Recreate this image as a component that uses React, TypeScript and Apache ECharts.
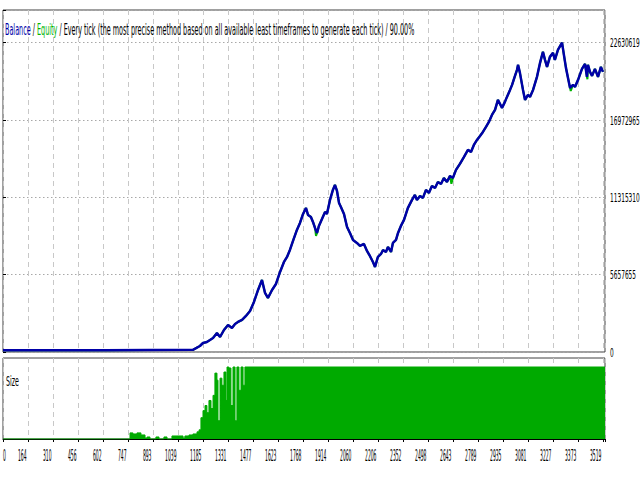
import React, { useEffect, useRef } from "react";
import * as echarts from "echarts";

const xTickLabels = ["0", "164", "310", "456", "602", "747", "893", "1039", "1185", "1331", "1477", "1623", "1768", "1914", "2060", "2206", "2352", "2498", "2643", "2789", "2935", "3081", "3227", "3373", "3519"];
const yTickValues = [0, 5657655, 11315310, 16972965, 22630619];
const yTickLabels = ["0", "5657655", "11315310", "16972965", "22630619"];

const balanceTrades = [0, 600, 1114, 1135, 1155, 1173, 1196, 1214, 1232, 1255, 1273, 1296, 1320, 1343, 1361, 1378, 1402, 1425, 1449, 1472, 1496, 1519, 1537, 1554, 1578, 1601, 1625, 1648, 1666, 1683, 1701, 1724, 1742, 1760, 1777, 1789, 1806, 1818, 1830, 1842, 1853, 1871, 1889, 1900, 1918, 1935, 1947, 1959, 1971, 1982, 2000, 2018, 2035, 2053, 2076, 2094, 2117, 2135, 2152, 2170, 2182, 2199, 2217, 2229, 2246, 2258, 2276, 2287, 2305, 2317, 2334, 2352, 2375, 2399, 2416, 2428, 2446, 2463, 2481, 2498, 2516, 2534, 2551, 2569, 2586, 2604, 2622, 2639, 2657, 2680, 2704, 2727, 2745, 2762, 2780, 2798, 2815, 2833, 2850, 2868, 2886, 2903, 2927, 2944, 2956, 2974, 2986, 3003, 3015, 3021, 3032, 3050, 3062, 3079, 3091, 3109, 3132, 3150, 3167, 3179, 3191, 3208, 3226, 3237, 3255, 3279, 3290, 3302, 3314, 3326, 3343, 3355, 3373, 3396, 3414, 3425, 3431, 3443, 3455, 3472, 3490, 3507, 3519];
const balanceValues = [120000, 125000, 160000, 300000, 439000, 659000, 732000, 878000, 1025000, 1391000, 1098000, 1610000, 1976000, 1757000, 2049000, 2196000, 2342000, 2635000, 3001000, 3660000, 4538000, 5270000, 4318000, 3952000, 4538000, 4977000, 5855000, 6587000, 6953000, 7465000, 8124000, 8929000, 9442000, 10100000, 10540000, 10027000, 9881000, 9515000, 9076000, 8710000, 9222000, 9734000, 10247000, 10100000, 11125000, 11857000, 12223000, 11784000, 10905000, 10613000, 10100000, 9149000, 8710000, 8197000, 7978000, 7758000, 7905000, 7392000, 7026000, 6587000, 6221000, 6953000, 7173000, 7465000, 7319000, 7685000, 7319000, 7978000, 8197000, 8710000, 9222000, 9661000, 10540000, 11125000, 11491000, 11125000, 11418000, 11272000, 11857000, 11637000, 12150000, 12003000, 12442000, 12296000, 12735000, 12442000, 12882000, 12735000, 13321000, 13760000, 14272000, 14785000, 14638000, 15151000, 15516000, 15809000, 16102000, 16468000, 16834000, 17346000, 17712000, 18444000, 17859000, 18298000, 18664000, 19176000, 19542000, 20201000, 20640000, 21006000, 20420000, 19176000, 18444000, 18810000, 18664000, 19176000, 20128000, 21152000, 21957000, 21372000, 20859000, 21591000, 21884000, 21372000, 22104000, 22630619, 21738000, 20786000, 20054000, 19322000, 19542000, 19396000, 19908000, 20713000, 21079000, 20128000, 21006000, 20493000, 20201000, 20713000, 20128000, 20859000, 20493000];

const equityDipTrades = [1836, 2630, 3330, 3428];
const equityDipValues = [8500000, 12300000, 19100000, 19950000];

const sizeTrades = [0, 745, 762, 786, 809, 833, 845, 862, 897, 915, 944, 962, 991, 1056, 1067, 1091, 1114, 1138, 1150, 1161, 1173, 1185, 1196, 1208, 1220, 1232, 1243, 1255, 1261, 1273, 1284, 1296, 1308, 1314, 1325, 1337, 1349, 1361, 1372, 1384, 1396, 1408, 1419, 3531];
const sizeLots = [0, 8.5, 7, 8.5, 5.6, 1.4, 2.8, 0, 2.8, 0, 2.8, 0, 4.2, 1.4, 4.2, 5.6, 7, 9.9, 12.7, 29.6, 39.4, 46.5, 36.6, 53.5, 42.3, 60.6, 91.5, 81.7, 25.4, 84.5, 74.6, 93, 53.5, 100, 98.6, 46.5, 100, 25.4, 100, 67.6, 100, 74.6, 100, 100];

const legendText = "{b|Balance} / {e|Equity} / Every tick (the most precise method based on all available least timeframes to generate each tick) / 90.00%";
const sizeTitle = "Size";

const X_MAX = 3531;
const X_STEP = 146.625;
const Y_MAX = 25020000;
const Y_STEP = 5657655;
const SIZE_MAX = 112.5;
const FONT = "'DejaVu Sans', Tahoma, sans-serif";
const NAVY = "#0000a8";
const GREEN_EQ = "#00b400";
const GREEN_SIZE = "#00aa00";

export default function App() {
  const ref = useRef<HTMLDivElement>(null);
  useEffect(() => {
    const el = ref.current;
    if (!el) return;
    const chart = echarts.init(el, null, { renderer: "svg" });
    const balance = balanceTrades.map((t, i) => [t, balanceValues[i]]);
    const equity = [...balance, ...equityDipTrades.map((t, i) => [t, equityDipValues[i]])].sort((a, b) => a[0] - b[0]);
    const size = sizeTrades.map((t, i) => [t, sizeLots[i]]);

    chart.setOption({
      animation: false,
      backgroundColor: "#ffffff",
      grid: [
        { left: 3, top: 10, width: 602, height: 342, show: true, borderColor: "#404040", borderWidth: 1, backgroundColor: "#fff", containLabel: false },
        { left: 3, top: 358, width: 602, height: 81, show: true, borderColor: "#404040", borderWidth: 1, backgroundColor: "#fff", containLabel: false },
      ],
      xAxis: [
        {
          type: "value", gridIndex: 0, min: 0, max: X_MAX, interval: X_STEP,
          axisLine: { show: false }, axisTick: { show: false }, axisLabel: { show: false },
          splitLine: { show: true, lineStyle: { color: "#c8c8c8", type: [5, 4], width: 1 } },
        },
        {
          type: "value", gridIndex: 1, min: 0, max: X_MAX, interval: X_STEP,
          axisLine: { show: true, onZero: false, lineStyle: { color: "#000", width: 1 } },
          axisTick: { show: true, length: 3, lineStyle: { color: "#000" } },
          axisLabel: { show: false },
          splitLine: { show: true, lineStyle: { color: "#c8c8c8", type: [5, 4], width: 1 } },
        },
      ],
      yAxis: [
        {
          type: "value", gridIndex: 0, position: "right", min: 0, max: Y_MAX, interval: Y_STEP,
          axisLine: { show: false }, axisTick: { show: true, length: 3, lineStyle: { color: "#000" } },
          axisLabel: { show: false },
          splitLine: { show: true, lineStyle: { color: "#a8a8a8", type: [1.5, 2.5], width: 1 } },
        },
        {
          type: "value", gridIndex: 1, min: 0, max: SIZE_MAX,
          axisLine: { show: false }, axisTick: { show: false }, axisLabel: { show: false }, splitLine: { show: false },
        },
      ],
      series: [
        {
          type: "line", name: "Size", xAxisIndex: 1, yAxisIndex: 1, data: size, step: "end",
          showSymbol: false, symbol: "none", lineStyle: { width: 1, color: GREEN_SIZE },
          areaStyle: { color: GREEN_SIZE, opacity: 1 }, z: 2,
        },
        {
          type: "line", name: "Equity", xAxisIndex: 0, yAxisIndex: 0, data: equity,
          showSymbol: false, symbol: "none", lineStyle: { width: 2, color: GREEN_EQ }, z: 3,
        },
        {
          type: "line", name: "Balance", xAxisIndex: 0, yAxisIndex: 0, data: balance,
          showSymbol: false, symbol: "none", lineStyle: { width: 2.5, color: NAVY }, z: 4,
        },
      ],
    });

    const gfx: any[] = [];
    gfx.push({
      type: "text", x: 5, y: 30, scaleX: 0.43, z: 100,
      style: {
        text: legendText, fontFamily: FONT, fontSize: 15, fill: "#000",
        verticalAlign: "middle", textVerticalAlign: "middle",
        rich: {
          b: { fill: NAVY, fontSize: 15, fontFamily: FONT },
          e: { fill: GREEN_EQ, fontSize: 15, fontFamily: FONT },
        },
      },
    });
    gfx.push({
      type: "text", x: 6, y: 381, scaleX: 0.45, z: 100,
      style: { text: sizeTitle, fontFamily: FONT, fontSize: 14, fill: "#000", verticalAlign: "middle", textVerticalAlign: "middle" },
    });
    yTickValues.forEach((v, i) => {
      const p = chart.convertToPixel({ gridIndex: 0 }, [0, v]) as number[];
      gfx.push({
        type: "text", x: 610, y: p[1], scaleX: 0.45, z: 100,
        style: { text: yTickLabels[i], fontFamily: FONT, fontSize: 13, fill: "#000", align: "left", textAlign: "left", verticalAlign: "middle", textVerticalAlign: "middle" },
      });
    });
    xTickLabels.forEach((lab, i) => {
      const p = chart.convertToPixel({ gridIndex: 1 }, [i * X_STEP, 0]) as number[];
      const first = i === 0;
      gfx.push({
        type: "text", x: first ? p[0] : p[0] - 1.5, y: 456, scaleX: 0.3, z: 100,
        style: { text: lab, fontFamily: FONT, fontSize: 15, fill: "#000", align: first ? "left" : "right", textAlign: first ? "left" : "right", verticalAlign: "middle", textVerticalAlign: "middle" },
      });
    });
    chart.setOption({ graphic: gfx });

    return () => chart.dispose();
  }, []);
  return <div ref={ref} style={{ position: "absolute", left: 0, top: 0, width: 640, height: 480 }} />;
}
